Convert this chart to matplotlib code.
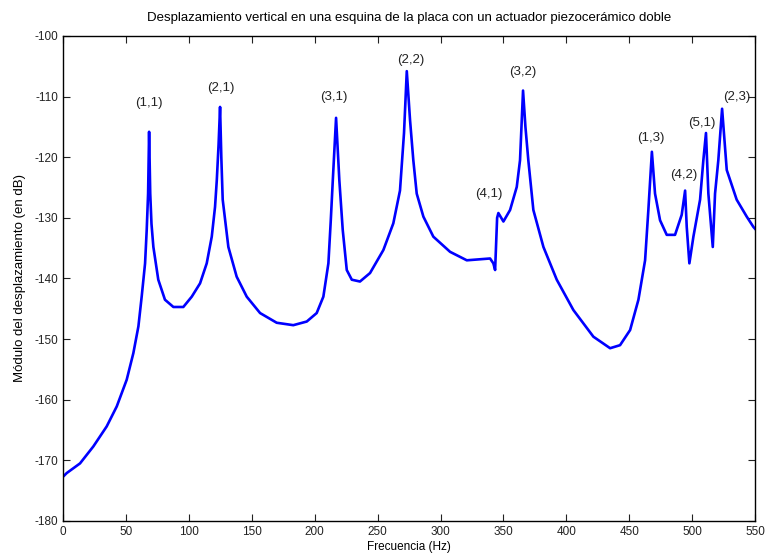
import matplotlib
matplotlib.use("Agg")
import matplotlib.pyplot as plt
import numpy as np

# frecuencias (Hz) y modulo (dB)
freq = [0, 2.9, 13.5, 24.1, 34.7, 42.7, 50.6, 55.9, 59.9, 62.5, 65.2, 66.5, 67.6, 68.4,
        69.3, 70.3, 71.8, 75.7, 81, 87.7, 95.6, 102.3, 108.9, 114.2, 118.2, 120.8, 122.2,
        123.6, 124.8, 125.8, 126.9, 131.4, 138, 146, 156.6, 169.8, 183, 193.7, 201.6,
        206.9, 210.9, 212.8, 214.4, 217, 219.6, 222.3, 225.5, 229.5, 236, 244, 254.6,
        262.5, 267.8, 271, 273.2, 275.8, 278.4, 281.1, 286.4, 294.3, 307.6, 320.9, 339.4,
        342, 343.4, 345, 346, 350, 355.3, 360.6, 363.2, 365.6, 367.5, 369.8, 373.8, 381.8,
        392.4, 405.6, 421.5, 434.8, 442.7, 450.7, 457.3, 462.6, 465.2, 468, 470.5, 474.5,
        479.8, 486.4, 491.7, 494.4, 495.7, 497.8, 501, 506.3, 508.9, 511, 512.9, 516.4,
        518.2, 520.8, 523.8, 527.5, 535.4, 543.4, 548.7, 550]
mod_db = [-172.7, -172.1, -170.5, -167.7, -164.4, -161.1, -156.7, -152.3, -147.9, -143,
          -137.5, -132, -126, -115.8, -126, -131, -134.8, -140.2, -143.5, -144.7, -144.7,
          -143, -140.8, -137.5, -133.1, -128.2, -123.8, -118, -111.7, -120, -127, -134.8,
          -139.7, -143, -145.7, -147.3, -147.7, -147.1, -145.7, -143, -137.5, -130.4,
          -123.8, -113.5, -123.8, -132, -138.6, -140.2, -140.5, -139.1, -135.3, -130.9,
          -125.5, -116, -105.8, -113.9, -120.5, -126, -129.8, -133.1, -135.6, -137,
          -136.7, -137.5, -138.6, -130, -129.2, -130.6, -128.7, -124.9, -120.5, -109,
          -115, -120.5, -128.7, -134.8, -140.2, -145.2, -149.6, -151.5, -151, -148.5,
          -143.5, -137, -128.7, -119.1, -126, -130.4, -132.8, -132.8, -129.5, -125.5,
          -131.5, -137.5, -133.1, -127, -120.5, -116, -126, -134.8, -126, -120.5, -112,
          -122.1, -127, -129.8, -131.5, -131.8]

# etiquetas de los modos
modos = ["(1,1)", "(2,1)", "(3,1)", "(2,2)", "(4,1)", "(3,2)", "(1,3)", "(4,2)", "(5,1)", "(2,3)"]
modo_f = [68, 125.6, 215, 276, 338, 365, 467, 493.5, 508, 535.7]
modo_db = [-111, -108.6, -110, -104, -126, -106, -116.8, -123, -114.3, -110]

xticks = np.arange(0, 551, 50)
yticks = np.arange(-180, -99, 10)

plt.rcParams['font.family'] = ['Liberation Sans', 'DejaVu Sans']
plt.rcParams['axes.unicode_minus'] = False

fig = plt.figure(figsize=(7.65, 5.59), dpi=100)
ax = fig.add_axes([0.0824, 0.068, 0.9046, 0.8676])

ax.plot(freq, mod_db, color=(0, 0, 1), lw=1.9, solid_joinstyle='round')

for m, f, d in zip(modos, modo_f, modo_db):
    ax.text(f, d, m, ha='center', va='center', fontsize=9.5, color='#222222')

ax.set_xlim(0, 550)
ax.set_ylim(-180, -100)
ax.set_xticks(xticks)
ax.set_yticks(yticks)
ax.tick_params(direction='in', top=True, right=True, labelsize=8.5, length=5, colors='#222222')
for s in ax.spines.values():
    s.set_linewidth(1.0)

ax.set_title("Desplazamiento vertical en una esquina de la placa con un actuador piezocerámico doble",
             fontsize=9.5, pad=11)
ax.set_xlabel("Frecuencia (Hz)", fontsize=8.5, labelpad=2)
ax.set_ylabel("Módulo del desplazamiento (en dB)", fontsize=9.5, labelpad=6)

fig.savefig("out.png", dpi=100)
